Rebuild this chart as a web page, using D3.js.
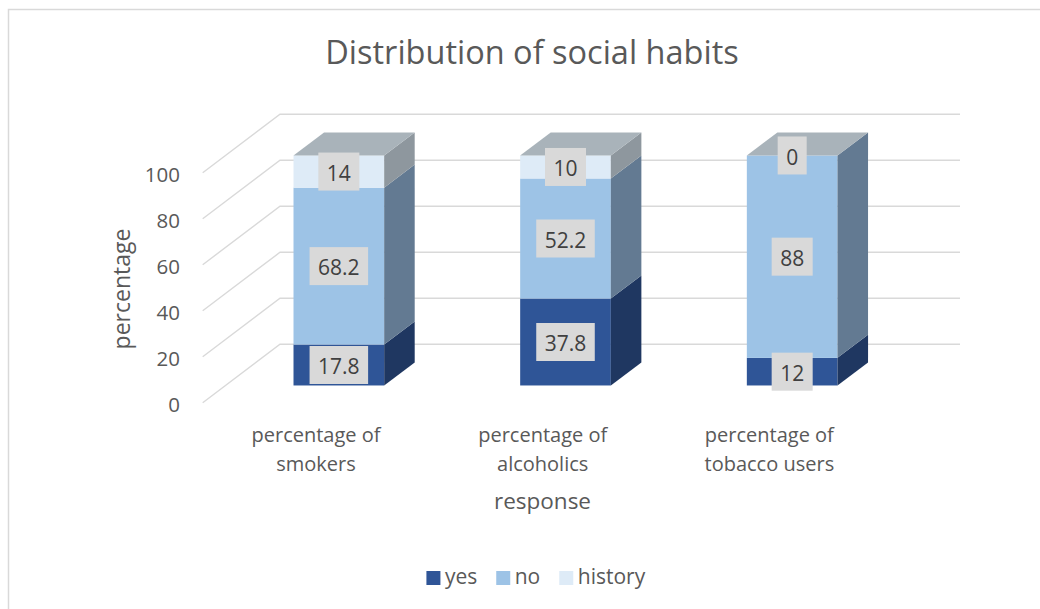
<!DOCTYPE html>
<html>
<head>
<meta charset="utf-8">
<script src="https://cdn.jsdelivr.net/npm/d3@7"></script>
<style>
  html, body { margin: 0; padding: 0; background: #ffffff; }
  svg { display: block; }
  text { font-family: "Open Sans", "Noto Sans", sans-serif; }
</style>
</head>
<body>
<svg id="chart" width="1040" height="609"></svg>
<script>
// ---- data ----
const categories = ["percentage of smokers", "percentage of alcoholics", "percentage of tobacco users"];
const categoryLines = [["percentage of", "smokers"], ["percentage of", "alcoholics"], ["percentage of", "tobacco users"]];
const seriesNames = ["yes", "no", "history"];
const yesValues = [17.8, 37.8, 12];
const noValues = [68.2, 52.2, 88];
const historyValues = [14, 10, 0];
const yTicks = [0, 20, 40, 60, 80, 100];
const chartTitle = "Distribution of social habits";
const yAxisTitle = "percentage";
const xAxisTitle = "response";

// ---- styles ----
const frontColors = { yes: "#2F5597", no: "#9DC3E6", history: "#DEEBF7" };
const sideColors  = { yes: "#1F3761", no: "#637A92", history: "#8E979E" };
const topColor = "#A9B3BA";
const gridColor = "#D9D9D9";
const textColor = "#595959";

const svg = d3.select("#chart");

// chart border
svg.append("rect")
  .attr("x", 8.5).attr("y", 9.5).attr("width", 1100).attr("height", 700)
  .attr("fill", "#fff").attr("stroke", gridColor).attr("stroke-width", 1.5);

// ---- 3D geometry ----
const DX = 77.3, DY = 58.4;       // full floor depth offset
const dFront = 0.295, dBack = 0.69; // bar depth fractions

const x = d3.scaleBand().domain(categories).range([202.7, 882.7])
  .paddingInner(0.6).paddingOuter(0.3);
const y = d3.scaleLinear().domain([0, 100]).range([402.7, 172.7]);

const proj = (px, py, d) => [px + d * DX, py - d * DY];

// gridlines: diagonal on the side wall + horizontal on back wall
const gridG = svg.append("g");
yTicks.forEach(v => {
  const p0 = proj(x.range()[0], y(v), 0);
  const p1 = proj(x.range()[0], y(v), 1);
  const p2 = proj(x.range()[1], y(v), 1);
  gridG.append("path")
    .attr("d", d3.line()([p0, p1, p2]))
    .attr("fill", "none").attr("stroke", gridColor).attr("stroke-width", 1.4);
});

// tick labels
svg.append("g").selectAll("text").data(yTicks).join("text")
  .attr("x", 180).attr("y", d => y(d) + 9.5)
  .attr("text-anchor", "end")
  .attr("font-size", 20.5).attr("fill", textColor)
  .text(d => d);

// stack
const rows = categories.map((c, i) => ({ cat: c, yes: yesValues[i], no: noValues[i], history: historyValues[i] }));
const stacked = d3.stack().keys(seriesNames)(rows);

const barsG = svg.append("g");
const bw = x.bandwidth();
const bdx = (dBack - dFront) * DX, bdy = (dBack - dFront) * DY;

rows.forEach((r, i) => {
  const xl = x(r.cat);
  const xr = xl + bw;
  stacked.forEach(s => {
    const seg = s[i];
    const yb = y(seg[0]), yt = y(seg[1]);
    const [fxl, fyb] = proj(xl, yb, dFront);
    const [fxr, fyt] = proj(xr, yt, dFront);
    barsG.append("rect")
      .attr("x", fxl).attr("y", fyt)
      .attr("width", fxr - fxl).attr("height", Math.max(0, fyb - fyt))
      .attr("fill", frontColors[s.key]);
    barsG.append("path")
      .attr("d", d3.line()([[fxr, fyb], [fxr + bdx, fyb - bdy], [fxr + bdx, fyt - bdy], [fxr, fyt]]) + "Z")
      .attr("fill", sideColors[s.key]);
  });
  const last = stacked[stacked.length - 1][i];
  const [fxl, fyt] = proj(xl, y(last[1]), dFront);
  const fxr = fxl + bw;
  barsG.append("path")
    .attr("d", d3.line()([[fxl, fyt], [fxr, fyt], [fxr + bdx, fyt - bdy], [fxl + bdx, fyt - bdy]]) + "Z")
    .attr("fill", topColor);
});

// data labels
const labelsG = svg.append("g");
rows.forEach((r, i) => {
  stacked.forEach(s => {
    const seg = s[i];
    const cx = x(r.cat) + bw / 2 + dFront * DX;
    const cy = (y(seg[0]) + y(seg[1])) / 2 - dFront * DY;
    const g = labelsG.append("g");
    const t = g.append("text")
      .attr("x", cx).attr("y", cy + 9.2)
      .attr("text-anchor", "middle")
      .attr("font-size", 21).attr("fill", "#404040")
      .text(r[s.key]);
    const w = t.node().getComputedTextLength();
    g.insert("rect", "text")
      .attr("x", cx - w / 2 - 8.5).attr("y", cy - 19)
      .attr("width", w + 17).attr("height", 38)
      .attr("fill", "#D9D9D9");
  });
});

// category labels
const catG = svg.append("g");
categories.forEach((c, i) => {
  const cx = x(c) + bw / 2;
  categoryLines[i].forEach((line, k) => {
    catG.append("text")
      .attr("x", cx).attr("y", 442 + k * 28.5)
      .attr("text-anchor", "middle")
      .attr("font-size", 20).attr("fill", textColor)
      .text(line);
  });
});

// title
svg.append("text")
  .attr("x", 532).attr("y", 64.3)
  .attr("text-anchor", "middle")
  .attr("font-size", 32.5).attr("fill", textColor)
  .text(chartTitle);

// axis titles
svg.append("text")
  .attr("transform", "translate(129.5,289) rotate(-90)")
  .attr("text-anchor", "middle")
  .attr("font-size", 23).attr("fill", textColor)
  .text(yAxisTitle);

svg.append("text")
  .attr("x", 542.5).attr("y", 509)
  .attr("text-anchor", "middle")
  .attr("font-size", 22.5).attr("fill", textColor)
  .text(xAxisTitle);

// legend
const legG = svg.append("g");
let lx = 0;
seriesNames.forEach((name) => {
  const g = legG.append("g").attr("transform", `translate(${lx},0)`);
  g.append("rect").attr("x", 0).attr("y", 571).attr("width", 14).attr("height", 14)
    .attr("fill", frontColors[name]);
  const t = g.append("text").attr("x", 18.5).attr("y", 584.3)
    .attr("font-size", 21).attr("fill", textColor).text(name);
  const w = t.node().getComputedTextLength();
  lx += 18.5 + w + 19;
});
const totalW = lx - 19;
legG.attr("transform", `translate(${535.8 - totalW / 2},0)`);
</script>
</body>
</html>
